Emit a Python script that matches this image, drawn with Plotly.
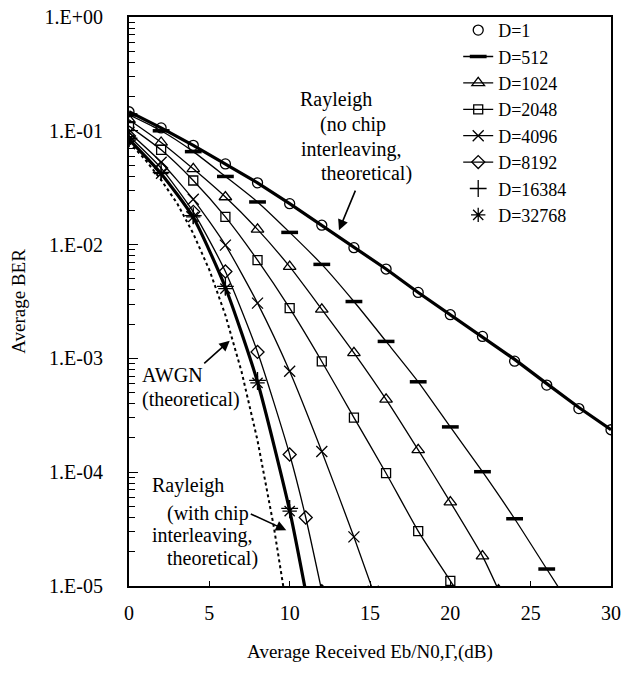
import plotly.graph_objects as go

# ---------------- data ----------------
snr_even = [0, 2, 4, 6, 8, 10, 12, 14, 16, 18, 20, 22, 24, 26, 28, 30]

# D=1 (circles, markers only)
ber_d1 = [0.147, 0.106, 0.0745, 0.0512, 0.0349, 0.0229, 0.0148, 0.0094,
          0.0061, 0.0038, 0.00242, 0.00156, 0.000946, 0.000583, 0.000362, 0.000236]

# D=512 (dash markers + line), last point = line tail below the axis
x_d512 = [0, 2, 4, 6, 8, 10, 12, 14, 16, 18, 20, 22, 24, 26, 27]
ber_d512 = [0.138, 0.100, 0.0656, 0.0397, 0.0237, 0.0128, 0.0067, 0.00316,
            0.00141, 0.000623, 0.00025, 0.000101, 3.9e-5, 1.41e-5, 8.5e-6]

x_d1024 = [0, 2, 4, 6, 8, 10, 12, 14, 16, 18, 20, 22, 23]
ber_d1024 = [0.125, 0.079, 0.0463, 0.0262, 0.0136, 0.0064, 0.0027, 0.00112,
             0.000437, 0.000157, 5.46e-5, 1.83e-5, 9.2e-6]

x_d2048 = [0, 2, 4, 6, 8, 10, 12, 14, 16, 18, 20, 20.5]
ber_d2048 = [0.11, 0.068, 0.0366, 0.0175, 0.0073, 0.00276, 0.00094, 0.000302,
             9.8e-5, 3.04e-5, 1.11e-5, 8.6e-6]

x_d4096 = [0, 2, 4, 6, 8, 10, 12, 14, 15.2]
ber_d4096 = [0.097, 0.053, 0.025, 0.0099, 0.00306, 0.00077, 0.000152, 2.7e-5, 9e-6]

x_d8192 = [0, 2, 4, 6, 8, 10, 11, 12]
ber_d8192 = [0.09, 0.047, 0.0194, 0.0058, 0.00114, 0.000143, 4e-5, 9e-6]

x_d16384 = [0, 2, 4, 6, 8, 10]
ber_d16384 = [0.086, 0.043, 0.018, 0.0043, 0.00064, 4.8e-5]

x_d32768 = [0, 2, 4, 6, 8, 10]
ber_d32768 = [0.083, 0.042, 0.0175, 0.0041, 0.00061, 4.55e-5]

# Theoretical curves
x_ray = [0, 2, 4, 6, 8, 10, 12, 14, 16, 18, 20, 22, 24, 26, 28, 30]
ber_ray = [0.147, 0.106, 0.0745, 0.0512, 0.0349, 0.0229, 0.0148, 0.0094,
           0.0061, 0.0038, 0.00242, 0.00156, 0.00098, 0.0006, 0.00037, 0.000236]

x_ray_chip = [0, 2, 4, 6, 8, 10, 11]
ber_ray_chip = [0.084, 0.042, 0.0173, 0.0042, 0.00062, 4.6e-5, 8.9e-6]

x_awgn = [0, 1, 2, 3, 4, 5, 6, 7, 8, 9, 9.6, 9.8]
ber_awgn = [0.079, 0.056, 0.037, 0.023, 0.0125, 0.006, 0.0024, 0.00077,
            0.00019, 3.4e-5, 1e-5, 6e-6]

x_ticks = [0, 5, 10, 15, 20, 25, 30]
y_ticks = [1, 0.1, 0.01, 0.001, 0.0001, 0.00001]
y_ticktext = ["1.E+00", "1.E-01", "1.E-02", "1.E-03", "1.E-04", "1.E-05"]

# ---------------- figure ----------------
FONT = "Liberation Serif"
BLACK = "black"
fig = go.Figure()

thin = 1.3
mk_line = dict(color=BLACK, width=1.3)

# theoretical lines (no legend)
fig.add_trace(go.Scatter(x=x_ray, y=ber_ray, mode="lines", showlegend=False,
                         line=dict(color=BLACK, width=3.2), hoverinfo="skip"))
fig.add_trace(go.Scatter(x=x_ray_chip, y=ber_ray_chip, mode="lines", showlegend=False,
                         line=dict(color=BLACK, width=3.2, shape="spline", smoothing=0.6),
                         hoverinfo="skip"))
fig.add_trace(go.Scatter(x=x_awgn, y=ber_awgn, mode="lines", showlegend=False,
                         line=dict(color=BLACK, width=2, dash="dot"), hoverinfo="skip"))

# D series
fig.add_trace(go.Scatter(x=snr_even, y=ber_d1, mode="markers", name="D=1",
                         marker=dict(symbol="circle-open", size=10, color=BLACK, line=mk_line)))
fig.add_trace(go.Scatter(x=x_d512, y=ber_d512, mode="lines+markers", name="D=512",
                         line=dict(color=BLACK, width=thin, shape="spline", smoothing=0.6),
                         marker=dict(symbol="line-ew", size=12, color=BLACK,
                                     line=dict(color=BLACK, width=3.5))))
fig.add_trace(go.Scatter(x=x_d1024, y=ber_d1024, mode="lines+markers", name="D=1024",
                         line=dict(color=BLACK, width=thin, shape="spline", smoothing=0.6),
                         marker=dict(symbol="triangle-up-open", size=11, color=BLACK, line=mk_line)))
fig.add_trace(go.Scatter(x=x_d2048, y=ber_d2048, mode="lines+markers", name="D=2048",
                         line=dict(color=BLACK, width=thin, shape="spline", smoothing=0.6),
                         marker=dict(symbol="square-open", size=9, color=BLACK, line=mk_line)))
fig.add_trace(go.Scatter(x=x_d4096, y=ber_d4096, mode="lines+markers", name="D=4096",
                         line=dict(color=BLACK, width=thin, shape="spline", smoothing=0.6),
                         marker=dict(symbol="x-thin-open", size=11, color=BLACK, line=mk_line)))
fig.add_trace(go.Scatter(x=x_d8192, y=ber_d8192, mode="lines+markers", name="D=8192",
                         line=dict(color=BLACK, width=thin, shape="spline", smoothing=0.6),
                         marker=dict(symbol="diamond-open", size=10, color=BLACK, line=mk_line)))
fig.add_trace(go.Scatter(x=x_d16384, y=ber_d16384, mode="markers", name="D=16384",
                         marker=dict(symbol="cross-thin-open", size=12, color=BLACK, line=mk_line)))
fig.add_trace(go.Scatter(x=x_d32768, y=ber_d32768, mode="markers", name="D=32768",
                         marker=dict(symbol="asterisk-open", size=12, color=BLACK, line=mk_line)))

# ---------------- annotations ----------------
def txt(x, logy, s):
    fig.add_annotation(x=x, y=logy, xref="x", yref="y", text=s, showarrow=False,
                       xanchor="left", yanchor="middle",
                       font=dict(family=FONT, size=20, color=BLACK))

def arrow(x, logy, ax, ay):
    fig.add_annotation(x=x, y=logy, xref="x", yref="y", text="", showarrow=True,
                       ax=ax, ay=ay, arrowhead=2, arrowsize=1.3, arrowwidth=1.6,
                       arrowcolor=BLACK)

txt(10.50, -0.726, "Rayleigh")
txt(11.74, -0.941, "(no chip")
txt(10.56, -1.160, "interleaving,")
txt(11.80, -1.378, "theoretical)")
arrow(13.07, -1.873, 17, -41)

txt(0.67, -3.147, "AWGN")
txt(0.67, -3.357, "(theoretical)")
arrow(6.27, -2.844, -27, 24)

txt(1.29, -4.117, "Rayleigh")
txt(2.22, -4.362, "(with chip")
txt(1.29, -4.554, "interleaving,")
txt(2.22, -4.755, "theoretical)")
arrow(9.79, -4.51, -37, -17)

# ---------------- layout ----------------
fig.update_layout(
    width=642, height=673,
    margin=dict(l=129, r=31, t=14, b=87),
    paper_bgcolor="white", plot_bgcolor="white",
    font=dict(family=FONT, size=20, color=BLACK),
    legend=dict(x=0.683, y=1.009, xanchor="left", yanchor="top",
                bgcolor="rgba(0,0,0,0)", font=dict(family=FONT, size=18, color=BLACK),
                tracegroupgap=0, itemwidth=30),
)
fig.update_xaxes(
    range=[0, 30], tickvals=x_ticks, ticks="inside", ticklen=5, tickwidth=1,
    tickcolor=BLACK, showline=True, linewidth=2, linecolor=BLACK, mirror=True,
    showgrid=False, zeroline=False, ticklabelstandoff=8, automargin=False,
    tickfont=dict(family=FONT, size=20, color=BLACK),
    title=dict(text="Average Received Eb/N0,Γ,(dB)", standoff=22,
               font=dict(family=FONT, size=19, color=BLACK)),
)
minor_vals = [m * 10.0 ** e for e in range(-5, 0) for m in range(2, 10)]
fig.update_yaxes(
    type="log", range=[-5, 0], tickvals=y_ticks, ticktext=y_ticktext,
    ticks="inside", ticklen=9, tickwidth=1, tickcolor=BLACK,
    minor=dict(tickvals=minor_vals, ticks="inside", ticklen=6, tickwidth=1, tickcolor=BLACK),
    showline=True, linewidth=2, linecolor=BLACK, mirror=True,
    showgrid=False, zeroline=False, ticklabelstandoff=20, automargin=False,
    tickfont=dict(family=FONT, size=20, color=BLACK),
    title=dict(text="Average BER", standoff=14,
               font=dict(family=FONT, size=19, color=BLACK)),
)

fig.write_html("out.html",
               config={"displayModeBar": False},
               post_script="document.body.style.margin='0';document.body.style.overflow='hidden';")
